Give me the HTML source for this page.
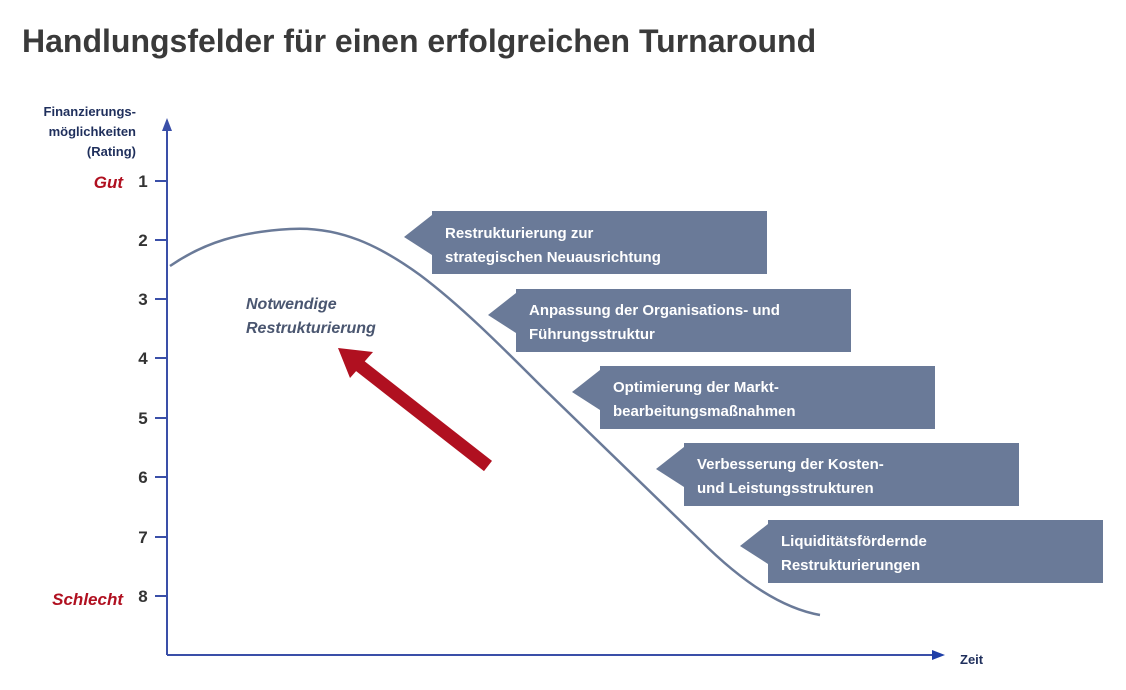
<!DOCTYPE html>
<html><head><meta charset="utf-8"><style>
body{margin:0;background:#fff;}
svg text{font-family:"Liberation Sans",sans-serif;font-weight:bold;}
</style></head><body>
<svg width="1126" height="685" viewBox="0 0 1126 685" xmlns="http://www.w3.org/2000/svg">
<text x="22" y="52" font-size="32" fill="#3a3a3a">Handlungsfelder für einen erfolgreichen Turnaround</text>
<g fill="#1f2f5c" font-size="13" text-anchor="end">
<text x="136" y="116">Finanzierungs-</text>
<text x="136" y="136">möglichkeiten</text>
<text x="136" y="156">(Rating)</text>
</g>
<line x1="167" y1="125" x2="167" y2="655" stroke="#3a4fa8" stroke-width="2"/>
<polygon points="167,118 162,131 172,131" fill="#3a4fa8"/>
<line x1="167" y1="655" x2="935" y2="655" stroke="#3a4fa8" stroke-width="2"/>
<polygon points="945,655 932,650 932,660" fill="#1f3fa8"/>
<text x="960" y="664" font-size="13" fill="#1f2f5c">Zeit</text>
<g stroke="#3a4fa8" stroke-width="2">
<line x1="155" y1="181" x2="167" y2="181"/><line x1="155" y1="240" x2="167" y2="240"/>
<line x1="155" y1="299" x2="167" y2="299"/><line x1="155" y1="358" x2="167" y2="358"/>
<line x1="155" y1="418" x2="167" y2="418"/><line x1="155" y1="477" x2="167" y2="477"/>
<line x1="155" y1="537" x2="167" y2="537"/><line x1="155" y1="596" x2="167" y2="596"/>
</g>
<g font-size="17" fill="#333" text-anchor="middle">
<text x="143" y="187">1</text><text x="143" y="246">2</text><text x="143" y="305">3</text><text x="143" y="364">4</text>
<text x="143" y="424">5</text><text x="143" y="483">6</text><text x="143" y="543">7</text><text x="143" y="602">8</text>
</g>
<text x="123" y="188" font-size="17" font-style="italic" fill="#b01020" text-anchor="end">Gut</text>
<text x="123" y="605" font-size="17" font-style="italic" fill="#b01020" text-anchor="end">Schlecht</text>
<path d="M170,266 C205,242 240,232 290,229 C340,226 380,246 420,275 C460,305 500,345 540,385 L700,540 C740,580 780,608 820,615" fill="none" stroke="#6a7a98" stroke-width="2.5"/>
<g font-size="16" font-style="italic" fill="#4a5670">
<text x="246" y="309">Notwendige</text>
<text x="246" y="333">Restrukturierung</text>
</g>
<line x1="488" y1="466" x2="355" y2="362" stroke="#b01020" stroke-width="13"/>
<polygon points="338,348 373,352 350,378" fill="#b01020"/>
<g fill="#6a7a98">
<polygon points="432,211 767,211 767,274 432,274 432,255 404,237 432,215"/>
<polygon points="516,289 851,289 851,352 516,352 516,333 488,315 516,293"/>
<polygon points="600,366 935,366 935,429 600,429 600,410 572,392 600,370"/>
<polygon points="684,443 1019,443 1019,506 684,506 684,487 656,469 684,447"/>
<polygon points="768,520 1103,520 1103,583 768,583 768,564 740,546 768,524"/>
</g>
<g fill="#fff" font-size="15">
<text x="445" y="238">Restrukturierung zur</text><text x="445" y="262">strategischen Neuausrichtung</text>
<text x="529" y="315">Anpassung der Organisations- und</text><text x="529" y="339">Führungsstruktur</text>
<text x="613" y="392">Optimierung der Markt-</text><text x="613" y="416">bearbeitungsmaßnahmen</text>
<text x="697" y="469">Verbesserung der Kosten-</text><text x="697" y="493">und Leistungsstrukturen</text>
<text x="781" y="546">Liquiditätsfördernde</text><text x="781" y="570">Restrukturierungen</text>
</g>
</svg>
</body></html>
